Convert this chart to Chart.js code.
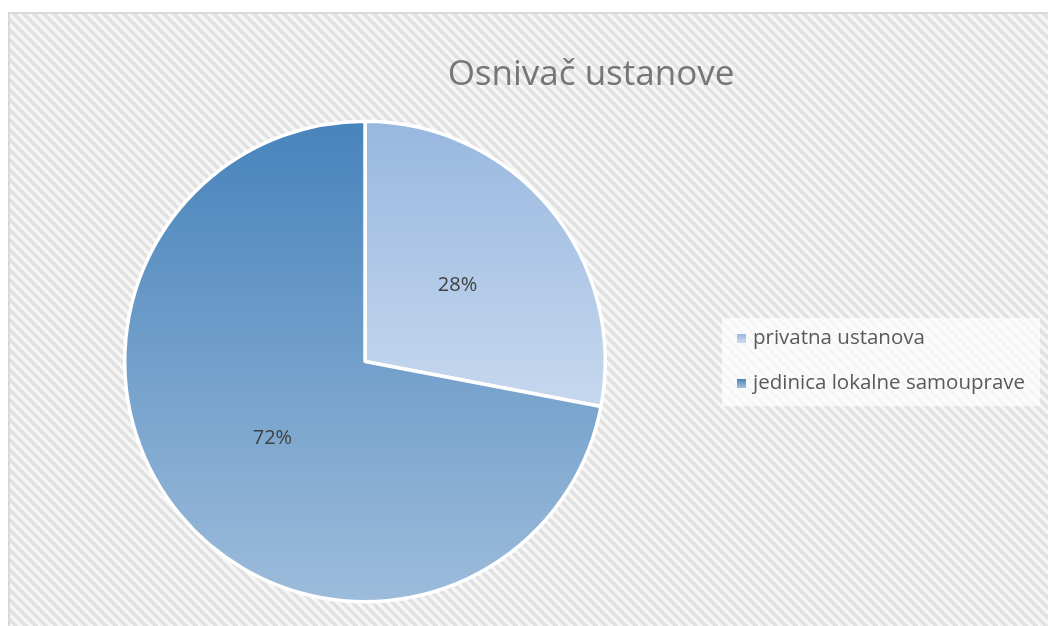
<!DOCTYPE html>
<html>
<head>
<meta charset="utf-8">
<script src="https://cdn.jsdelivr.net/npm/chart.js@4/dist/chart.umd.min.js"></script>
<style>
  html, body { margin: 0; padding: 0; background: #fff; }
  #wrap { width: 1048px; height: 626px; position: relative; }
</style>
</head>
<body>
<div id="wrap"><canvas id="pie"></canvas></div>
<script>
// data
const chartTitle = "Osnivač ustanove";
const categories = ["privatna ustanova", "jedinica lokalne samouprave"];
const shares = [28, 72];

// gradient colours per slice (top -> bottom)
const topColors = ["#98b7df", "#4783bb"];
const bottomColors = ["#c6d8ee", "#9dbcdb"];

const makeStripes = (ctx) => {
    const s = 10;
    const c = document.createElement("canvas");
    c.width = s; c.height = s;
    const g = c.getContext("2d");
    g.fillStyle = "#f6f6f6";
    g.fillRect(0, 0, s, s);
    g.strokeStyle = "#e1e1e1";
    g.lineWidth = 3.5;
    g.beginPath();
    g.moveTo(-s, -s); g.lineTo(2 * s, 2 * s);
    g.moveTo(-s, 0); g.lineTo(s, 2 * s);
    g.moveTo(0, -s); g.lineTo(2 * s, s);
    g.stroke();
    return ctx.createPattern(c, "repeat");
};

const sliceRange = (chart, i) => {
    const a = chart.chartArea;
    const cy = (a.top + a.bottom) / 2;
    const r = Math.min(a.width, a.height) / 2;
    const total = shares.reduce((s, v) => s + v, 0);
    let start = -Math.PI / 2;
    for (let k = 0; k < i; k++) start += shares[k] / total * Math.PI * 2;
    const end = start + shares[i] / total * Math.PI * 2;
    let lo = cy, hi = cy;
    for (let t = start; t <= end; t += 0.01) {
        const y = cy + Math.sin(t) * r;
        lo = Math.min(lo, y); hi = Math.max(hi, y);
    }
    return [lo, hi];
};

const sliceFill = (context) => {
    const chart = context.chart;
    const i = context.dataIndex;
    if (!chart.chartArea) return topColors[i];
    const [y0, y1] = sliceRange(chart, i);
    const grad = chart.ctx.createLinearGradient(0, y0, 0, y1);
    grad.addColorStop(0, topColors[i]);
    grad.addColorStop(1, bottomColors[i]);
    return grad;
};

const backdrop = {
    id: "backdrop",
    beforeDraw(chart) {
        const ctx = chart.ctx;
        ctx.save();
        ctx.fillStyle = "#ffffff";
        ctx.fillRect(0, 0, chart.width, chart.height);
        ctx.fillStyle = makeStripes(ctx);
        ctx.fillRect(9, 13, chart.width - 9, chart.height - 13);
        ctx.strokeStyle = "#d9d9d9";
        ctx.lineWidth = 2;
        ctx.strokeRect(9, 13, chart.width + 10, chart.height + 10);

        // title
        ctx.fillStyle = "#767676";
        ctx.font = "35px 'Open Sans'";
        ctx.textAlign = "center";
        ctx.textBaseline = "middle";
        ctx.fillText(chartTitle, 591, 75);
        ctx.restore();
    }
};

const sliceLabels = {
    id: "sliceLabels",
    afterDatasetsDraw(chart) {
        const ctx = chart.ctx;
        const meta = chart.getDatasetMeta(0);
        ctx.save();
        ctx.fillStyle = "#404040";
        ctx.font = "20px 'Open Sans'";
        ctx.textAlign = "center";
        ctx.textBaseline = "middle";
        meta.data.forEach((arc, i) => {
            const p = arc.getProps(["x", "y", "startAngle", "endAngle", "outerRadius"], true);
            const mid = (p.startAngle + p.endAngle) / 2;
            const d = p.outerRadius * 0.5;
            ctx.fillText(shares[i] + "%", p.x + Math.cos(mid) * d, p.y + Math.sin(mid) * d);
        });
        ctx.restore();
    }
};

const sideLegend = {
    id: "sideLegend",
    afterDraw(chart) {
        const ctx = chart.ctx;
        ctx.save();
        ctx.fillStyle = "rgba(255,255,255,0.7)";
        ctx.fillRect(722, 318, 318, 88);
        ctx.font = "20.5px 'Open Sans'";
        ctx.textBaseline = "middle";
        ctx.textAlign = "left";
        categories.forEach((name, i) => {
            const y = 338 + i * 45;
            const g = ctx.createLinearGradient(0, y - 4, 0, y + 4);
            g.addColorStop(0, topColors[i]);
            g.addColorStop(1, bottomColors[i]);
            ctx.fillStyle = g;
            ctx.fillRect(737, y - 4, 9, 9);
            ctx.fillStyle = "#595959";
            ctx.fillText(name, 753, y);
        });
        ctx.restore();
    }
};

new Chart(document.getElementById("pie"), {
    type: "pie",
    data: {
        labels: categories,
        datasets: [{
            data: shares,
            backgroundColor: sliceFill,
            borderColor: "#ffffff",
            borderWidth: 3.5
        }]
    },
    options: {
        responsive: true,
        maintainAspectRatio: false,
        animation: false,
        layout: {
            padding: { left: 123, top: 119, right: 441, bottom: 22 }
        },
        plugins: {
            legend: { display: false },
            title: { display: false },
            tooltip: { enabled: false }
        }
    },
    plugins: [backdrop, sliceLabels, sideLegend]
});
</script>
</body>
</html>
